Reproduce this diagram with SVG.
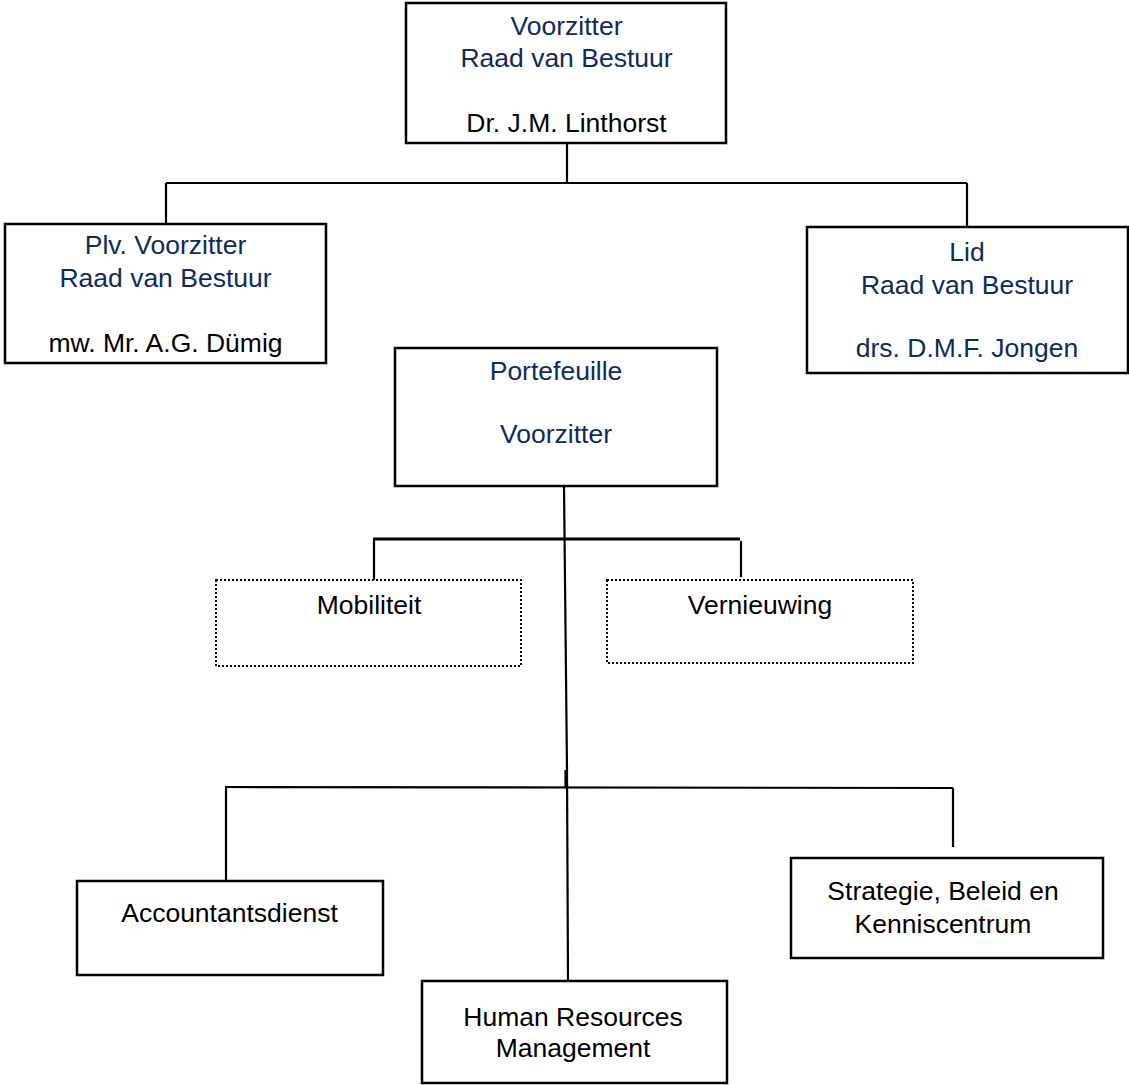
<svg xmlns="http://www.w3.org/2000/svg" width="1129" height="1085" viewBox="0 0 1129 1085">
  <style>
    .box { fill: #ffffff; stroke: #000000; stroke-width: 2.5; }
    .dotbox { fill: #ffffff; stroke: #000000; stroke-width: 2; stroke-dasharray: 2 2; }
    .lbl { font-family: "Liberation Sans", Arial, sans-serif; font-size: 26.5px; text-anchor: middle; }
    .navy { fill: #0f2a5c; }
    .black { fill: #000000; }
    .conn line { stroke: #000000; stroke-width: 2.2; fill: none; }
    .conn .thick { stroke-width: 3.2; }
  </style>
  <rect width="1129" height="1085" fill="#ffffff"/>

  <!-- connectors -->
  <g id="connectors" class="conn">
    <line x1="567" y1="143" x2="567" y2="183"/>
    <line x1="166" y1="183" x2="967" y2="183"/>
    <line x1="166" y1="183" x2="166" y2="224"/>
    <line x1="967" y1="183" x2="967" y2="227"/>
    <line x1="564" y1="486" x2="567" y2="770"/>
    <line x1="567" y1="770" x2="568" y2="981"/>
    <line x1="565.5" y1="770" x2="565.5" y2="788"/>
    <line class="thick" x1="373" y1="539" x2="740" y2="539"/>
    <line x1="374" y1="539" x2="374" y2="580"/>
    <line x1="741" y1="541" x2="741" y2="577"/>
    <line x1="225" y1="787" x2="953" y2="788"/>
    <line x1="226" y1="787" x2="226" y2="881"/>
    <line x1="953" y1="788" x2="953" y2="847"/>
  </g>

  <g id="voorzitter">
    <rect class="box" x="406" y="3" width="320" height="140"/>
    <text class="lbl navy" x="566.5" y="35">Voorzitter</text>
    <text class="lbl navy" x="566.5" y="67">Raad van Bestuur</text>
    <text class="lbl black" x="566.5" y="132">Dr. J.M. Linthorst</text>
  </g>

  <g id="plv-voorzitter">
    <rect class="box" x="5" y="224" width="321" height="139"/>
    <text class="lbl navy" x="165.5" y="254">Plv. Voorzitter</text>
    <text class="lbl navy" x="165.5" y="287">Raad van Bestuur</text>
    <text class="lbl black" x="165.5" y="352">mw. Mr. A.G. Dümig</text>
  </g>

  <g id="lid">
    <rect class="box" x="807" y="227" width="321" height="146"/>
    <text class="lbl navy" x="967" y="261">Lid</text>
    <text class="lbl navy" x="967" y="294">Raad van Bestuur</text>
    <text class="lbl navy" x="967" y="357">drs. D.M.F. Jongen</text>
  </g>

  <g id="portefeuille">
    <rect class="box" x="395" y="348" width="322" height="138"/>
    <text class="lbl navy" x="556" y="380">Portefeuille</text>
    <text class="lbl navy" x="556" y="443">Voorzitter</text>
  </g>

  <g id="mobiliteit">
    <rect class="dotbox" x="216" y="580" width="305" height="86"/>
    <text class="lbl black" x="369" y="614">Mobiliteit</text>
  </g>

  <g id="vernieuwing">
    <rect class="dotbox" x="607" y="580" width="306" height="83"/>
    <text class="lbl black" x="760" y="614">Vernieuwing</text>
  </g>

  <g id="accountantsdienst">
    <rect class="box" x="77" y="881" width="306" height="94"/>
    <text class="lbl black" x="229.5" y="922">Accountantsdienst</text>
  </g>

  <g id="human-resources">
    <rect class="box" x="422" y="981" width="305" height="102"/>
    <text class="lbl black" x="573" y="1026">Human Resources</text>
    <text class="lbl black" x="573" y="1057">Management</text>
  </g>

  <g id="strategie">
    <rect class="box" x="791" y="858" width="312" height="100"/>
    <text class="lbl black" x="943" y="900">Strategie, Beleid en</text>
    <text class="lbl black" x="943" y="933">Kenniscentrum</text>
  </g>
</svg>
